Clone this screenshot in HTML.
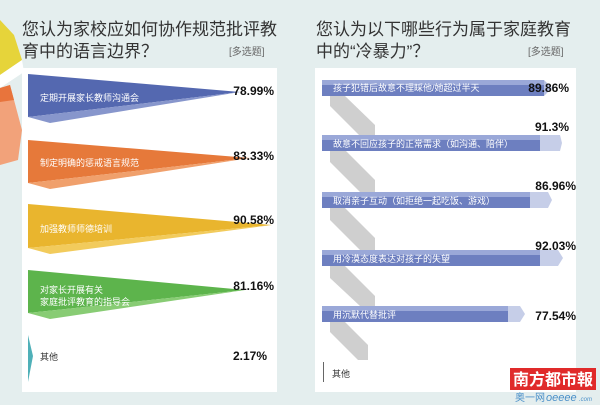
<!DOCTYPE html>
<html><head><meta charset="utf-8"><style>
body{margin:0;width:600px;height:405px;overflow:hidden;background:#e4eeee;font-family:"Liberation Sans","Noto Sans CJK SC",sans-serif}
</style></head><body>
<svg width="600" height="405" xmlns="http://www.w3.org/2000/svg" style="position:absolute;left:0;top:0;font-family:'Liberation Sans','Noto Sans CJK SC',sans-serif">
<rect width="600" height="405" fill="#e4eeee"/>
<polygon points="0,20 14,35 22,60 0,75" fill="#e6d43a"/>
<polygon points="0,75 22,60 24,72 0,88" fill="#ffffff"/>
<polygon points="0,88 10,85 22,130 18,160 0,165" fill="#f2a27a"/>
<polygon points="0,88 10,85 14,100 0,102" fill="#e8743c"/>
<rect x="22" y="68" width="255" height="324" fill="#fff"/>
<rect x="315" y="68" width="261" height="324" fill="#fff"/>
<text x="22" y="35" font-size="17" fill="#333">您认为家校应如何协作规范批评教</text>
<text x="22" y="57" font-size="17" fill="#333">育中的语言边界？</text>
<text x="229" y="55" font-size="10" fill="#666">[多选题]</text>
<text x="316" y="35" font-size="17" fill="#333">您认为以下哪些行为属于家庭教育</text>
<text x="316" y="57" font-size="17" fill="#333">中的“冷暴力”？</text>
<text x="528" y="55" font-size="10" fill="#666">[多选题]</text>
<polygon points="28,74 240,92 28,117" fill="#5468b0"/><polygon points="28,117 240,92 50,123" fill="#8796cc"/>
<polygon points="28,140 250,158 28,183" fill="#e6793a"/><polygon points="28,183 250,158 50,189" fill="#f0a06c"/>
<polygon points="28,204 272,225 28,248" fill="#e9b52e"/><polygon points="28,248 272,225 50,254" fill="#f2cb5c"/>
<polygon points="28,270 245,290 28,313" fill="#5db44c"/><polygon points="28,313 245,290 50,319" fill="#88cc74"/>
<polygon points="28,335 33,356 28,382" fill="#4fb0b8"/>
<g font-size="9" fill="#fff">
<text x="40" y="101">定期开展家长教师沟通会</text>
<text x="40" y="166">制定明确的惩戒语言规范</text>
<text x="40" y="232">加强教师师德培训</text>
<text x="40" y="293">对家长开展有关</text>
<text x="40" y="305">家庭批评教育的指导会</text>
</g>
<text x="40" y="360" font-size="9" fill="#333">其他</text>
<g font-size="12" font-weight="bold" fill="#111" text-anchor="end">
<text x="274" y="95">78.99%</text>
<text x="274" y="160">83.33%</text>
<text x="274" y="224">90.58%</text>
<text x="274" y="290">81.16%</text>
<text x="267" y="360">2.17%</text>
</g>
<g fill="#cfcfcf">
<polygon points="330,96 345,96 375,125 375,136 360,136 330,106"/>
<polygon points="330,150 345,150 375,180 375,192 360,192 330,162"/>
<polygon points="330,208 345,208 375,238 375,250 360,250 330,220"/>
<polygon points="330,266 345,266 375,296 375,306 360,306 330,278"/>
<polygon points="330,322 345,322 368,345 368,360 358,360 330,332"/>
</g>
<g>
<rect x="322" y="80" width="222" height="16" fill="#6d7fc0"/><rect x="322" y="80" width="222" height="5" fill="#9aa8d8"/><polygon points="544,80 552,88 544,96" fill="#b8c2e4"/>
<rect x="322" y="135" width="220" height="16" fill="#6d7fc0"/><rect x="322" y="135" width="220" height="5" fill="#9aa8d8"/><polygon points="540,135 560,135 562,143 560,151 540,151" fill="#c6cee8"/>
<rect x="322" y="192" width="210" height="16" fill="#6d7fc0"/><rect x="322" y="192" width="210" height="5" fill="#9aa8d8"/><polygon points="530,192 548,192 552,200 548,208 530,208" fill="#c6cee8"/>
<rect x="322" y="250" width="220" height="16" fill="#6d7fc0"/><rect x="322" y="250" width="220" height="5" fill="#9aa8d8"/><polygon points="540,250 558,250 563,258 558,266 540,266" fill="#c6cee8"/>
<rect x="322" y="306" width="188" height="16" fill="#6d7fc0"/><rect x="322" y="306" width="188" height="5" fill="#9aa8d8"/><polygon points="508,306 520,306 525,314 520,322 508,322" fill="#c6cee8"/>
</g>
<line x1="323.5" y1="362" x2="323.5" y2="382" stroke="#666" stroke-width="1"/>
<g font-size="9" fill="#fff">
<text x="333" y="91">孩子犯错后故意不理睬他/她超过半天</text>
<text x="333" y="147">故意不回应孩子的正常需求（如沟通、陪伴）</text>
<text x="333" y="204">取消亲子互动（如拒绝一起吃饭、游戏）</text>
<text x="333" y="262">用冷漠态度表达对孩子的失望</text>
<text x="333" y="318">用沉默代替批评</text>
</g>
<text x="332" y="377" font-size="9" fill="#333">其他</text>
<g font-size="12" font-weight="bold" fill="#111" text-anchor="end">
<text x="569" y="92">89.86%</text>
<text x="569" y="131">91.3%</text>
<text x="576" y="190">86.96%</text>
<text x="576" y="250">92.03%</text>
<text x="576" y="320">77.54%</text>
<text x="570" y="377">0.72%</text>
</g>
<rect x="510" y="368" width="86" height="22" fill="#e02a2a"/>
<text x="553" y="385" font-size="16" fill="#fff" text-anchor="middle" font-weight="bold">南方都市報</text>
<text x="515" y="401" font-size="10" fill="#4a8fc8">奥一网</text>
<text x="546" y="401" font-size="11" fill="#4a8fc8" font-style="italic">oeeee</text>
<text x="579" y="401" font-size="6" fill="#4a8fc8" font-style="italic">.com</text>
</svg>
</body></html>
